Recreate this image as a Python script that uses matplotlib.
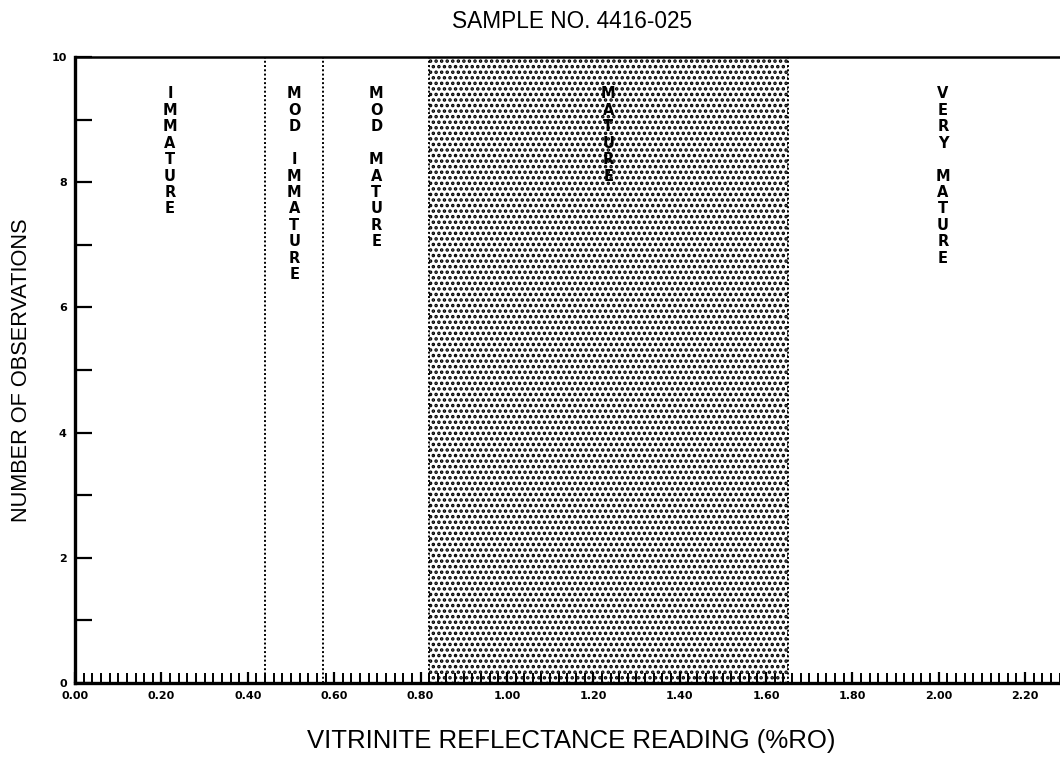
import numpy as np
import matplotlib
matplotlib.use("Agg")
import matplotlib.pyplot as plt
from matplotlib.ticker import MultipleLocator

# maturity zone boundaries (%Ro) and labels
bounds = [0.0, 0.44, 0.575, 0.82, 1.65, 2.37]
zone_names = ["IMMATURE", "MOD IMMATURE", "MOD MATURE", "MATURE", "VERY MATURE"]
shaded_zone = 3

x_ticks = [0.0, 0.2, 0.4, 0.6, 0.8, 1.0, 1.2, 1.4, 1.6, 1.8, 2.0, 2.2]
y_ticks = [0, 2, 4, 6, 8, 10]

plt.rcParams["hatch.linewidth"] = 1.7

fig = plt.figure(figsize=(10.6, 7.62), dpi=100)
ax = fig.add_axes([0.0708, 0.1037, 0.937, 0.8215])
ax.set_xlim(0, 2.3)
ax.set_ylim(0, 10)

# stippled band for the mature window
ax.axvspan(bounds[shaded_zone], bounds[shaded_zone + 1], facecolor="white",
           edgecolor="black", hatch="...", linewidth=0)

for b in bounds[1:5]:
    ax.axvline(b, color="black", linestyle=(0, (1, 1.2)), linewidth=1.4)


def stack(name):
    # one letter per line, a blank line between words
    return "\n".join(" " if c == " " else c for c in name)


for i, name in enumerate(zone_names):
    xc = (bounds[i] + bounds[i + 1]) / 2
    ax.text(xc, 9.53, stack(name), ha="center", va="top", fontsize=10.5,
            family="Liberation Sans Narrow", fontweight="bold", linespacing=1.12)

ax.spines["right"].set_visible(False)
ax.spines["left"].set_linewidth(2.4)
ax.spines["bottom"].set_linewidth(2.4)
ax.spines["top"].set_linewidth(1.8)

ax.set_xticks(x_ticks)
ax.set_xticklabels([f"{v:.2f}" for v in x_ticks])
ax.xaxis.set_minor_locator(MultipleLocator(0.02))
ax.set_yticks(y_ticks)
ax.set_yticklabels([str(v) for v in y_ticks])
ax.yaxis.set_minor_locator(MultipleLocator(1))

ax.tick_params(axis="x", which="major", direction="in", length=8, width=1.6,
               pad=6, labelsize=8)
ax.tick_params(axis="x", which="minor", direction="in", length=7, width=1.4)
ax.tick_params(axis="y", which="both", direction="in", length=12, width=1.6,
               pad=6, labelsize=8)
for lab in ax.get_xticklabels() + ax.get_yticklabels():
    lab.set_family("Liberation Sans Narrow")
    lab.set_fontweight("bold")

ax.set_title("SAMPLE NO. 4416-025", fontsize=16.3, family="Liberation Sans", pad=21)
ax.set_xlabel("VITRINITE REFLECTANCE READING (%RO)", fontsize=18.5,
              family="Liberation Sans", labelpad=20)
ax.set_ylabel("NUMBER OF OBSERVATIONS", fontsize=15.7, family="Liberation Sans",
              labelpad=14)

fig.savefig("out.png", dpi=100)
